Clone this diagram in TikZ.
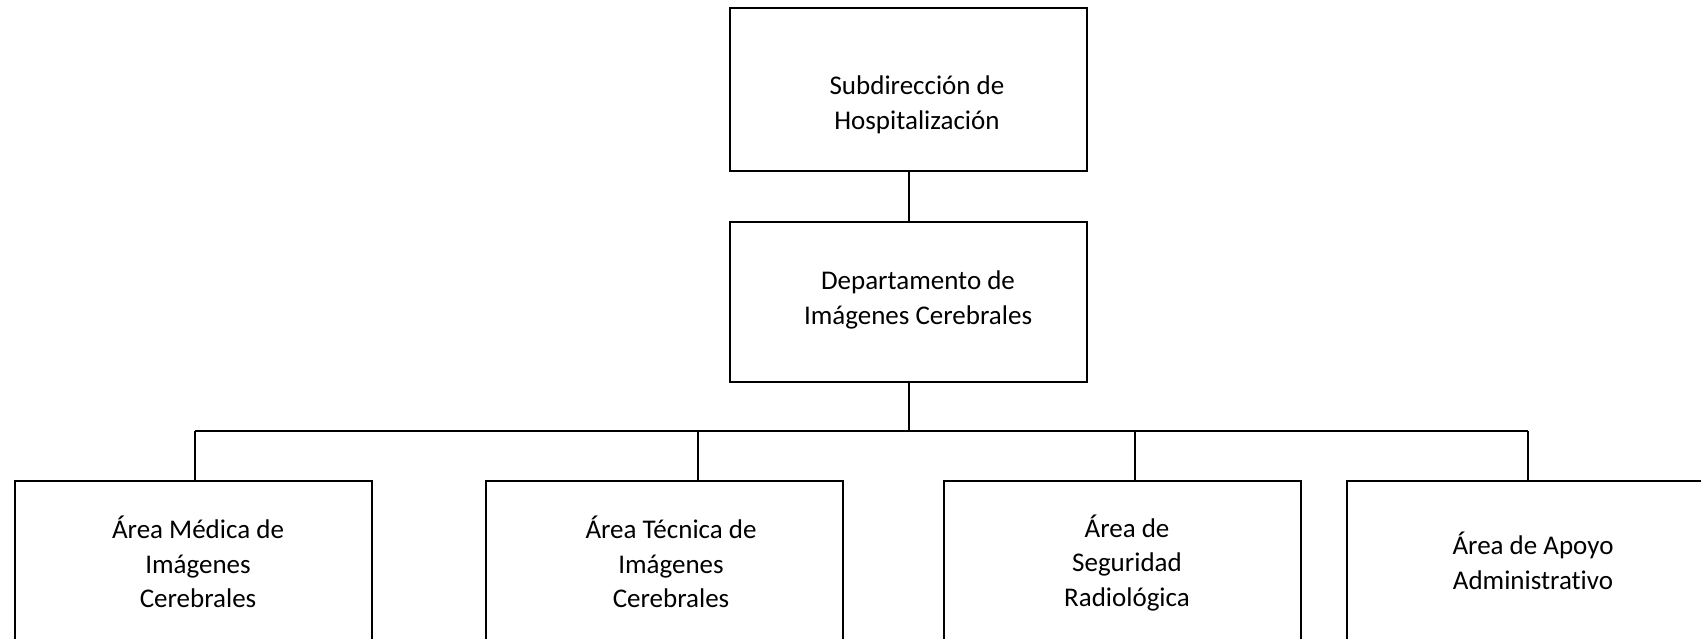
\documentclass[tikz,border=0pt]{standalone}
\usepackage{fontspec}
\setmainfont[Ligatures={NoCommon}]{Carlito}
\begin{document}
\begin{tikzpicture}[x=1pt,y=-1pt,
  box/.style={draw=black, line width=2pt, rectangle, minimum width=357pt, inner sep=0pt},
  lbl/.style={align=center, font=\fontsize{27}{34.5}\selectfont, inner sep=0pt},
  conn/.style={draw=black, line width=2pt}]
\useasboundingbox (0,0) rectangle (1701,638);
\clip (0,0) rectangle (1701,638);
% boxes
\node[box, minimum height=163pt] (top) at (908.5,89.5) {};
\node[box, minimum height=160pt] (mid) at (908.5,302) {};
\node[box, minimum height=220pt] (b1) at (193.5,591) {};
\node[box, minimum height=220pt] (b2) at (664,591) {};
\node[box, minimum height=220pt] (b3) at (1122,591) {};
\node[box, minimum height=220pt] (b4) at (1525.5,591) {};
% texts
\node[lbl] (ttop) at (917,105) {Subdirección de\\Hospitalización};
\node[lbl] (tmid) at (918,300) {Departamento de\\Imágenes Cerebrales};
\node[lbl] (tb1) at (198,562) {Área Médica de\\Imágenes\\Cerebrales};
\node[lbl] (tb2) at (671,562) {Área Técnica de\\Imágenes\\Cerebrales};
\node[lbl] (tb3) at (1127,563) {Área de\\Seguridad\\Radiológica};
\node[lbl] (tb4) at (1533,561) {Área de Apoyo\\Administrativo};
% bus coordinates
\coordinate (j0) at (908.5,431);
\coordinate (j1) at (195,431);
\coordinate (j2) at (698,431);
\coordinate (j3) at (1135,431);
\coordinate (j4) at (1528,431);
% connectors
\draw[conn] (top.south) -- (mid.north);
\draw[conn] (mid.south) -- (j0);
\draw[conn] (j1) -- (j4);
\draw[conn] (j1) -- (j1 |- b1.north);
\draw[conn] (j2) -- (j2 |- b2.north);
\draw[conn] (j3) -- (j3 |- b3.north);
\draw[conn] (j4) -- (j4 |- b4.north);
\end{tikzpicture}
\end{document}
